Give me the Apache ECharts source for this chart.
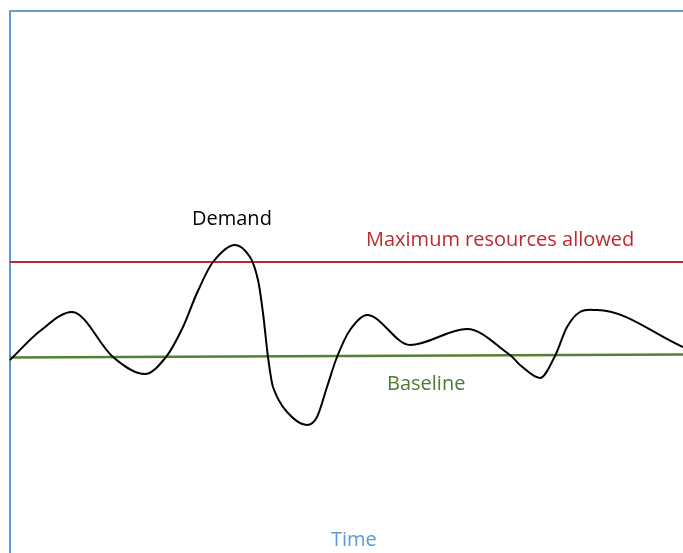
<!DOCTYPE html>
<html>
<head>
<meta charset="utf-8">
<script src="https://cdn.jsdelivr.net/npm/echarts@6/dist/echarts.min.js"></script>
<style>html,body{margin:0;padding:0;background:#fff;overflow:hidden}#c{width:683px;height:553px}</style>
</head>
<body>
<div id="c"></div>
<script>
// Time positions and demand values (arbitrary units)
const demandTime = [0,30,62,103,135,156,173,187,203,225,240,248,253,258,263,277,297,307,317,327,340,357,400,457,500,510,530,545,557,570,587,673];
const demandValue = [193,222,241,196,179,196,226,260,291,308,296,273,240,196,166,141,128,136,166,196,223,238,208,224,198,188,175,197,226,241,243,206];
const maxTime = [0,673];
const maxValue = [291,291];
const baseTime = [0,673];
const baseValue = [195.5,198.5];
const labels = { demand: 'Demand', max: 'Maximum resources allowed', base: 'Baseline', axis: 'Time' };

const zip = (a,b) => a.map((v,i)=>[v,b[i]]);
const chart = echarts.init(document.getElementById('c'));
const FONT = 'Open Sans';
const txt = (text, x, y, size, fill) => ({ type: 'text', x: x, y: y,
  style: { text: text, font: size + 'px "' + FONT + '"', fill: fill, textAlign: 'left', textVerticalAlign: 'middle' } });

// Cubic Hermite path (flat at local extrema) through pixel points obtained from the axes
function splinePath(pts) {
  const n = pts.length;
  const m = [];
  m[0] = (pts[1][1] - pts[0][1]) / (pts[1][0] - pts[0][0]);
  m[n-1] = (pts[n-1][1] - pts[n-2][1]) / (pts[n-1][0] - pts[n-2][0]);
  for (let i = 1; i < n - 1; i++) {
    const a = pts[i][1] - pts[i-1][1], b = pts[i+1][1] - pts[i][1];
    m[i] = (a * b <= 0) ? 0 : (pts[i+1][1] - pts[i-1][1]) / (pts[i+1][0] - pts[i-1][0]);
  }
  let p = 'M' + pts[0][0] + ',' + pts[0][1];
  for (let i = 0; i < n - 1; i++) {
    const h = pts[i+1][0] - pts[i][0];
    p += 'C' + (pts[i][0] + h/3) + ',' + (pts[i][1] + m[i]*h/3) + ' ' +
         (pts[i+1][0] - h/3) + ',' + (pts[i+1][1] - m[i+1]*h/3) + ' ' +
         pts[i+1][0] + ',' + pts[i+1][1];
  }
  return p;
}

chart.setOption({
  animation: false,
  backgroundColor: '#ffffff',
  grid: { left: 10, right: 0, top: 11, bottom: 0 },
  xAxis: { type: 'value', min: 0, max: 673, position: 'top',
    axisLine: { show: true, onZero: false, lineStyle: { color: '#6f9bc8', width: 2 } },
    axisTick: { show: false }, axisLabel: { show: false }, splitLine: { show: false } },
  yAxis: { type: 'value', min: 0, max: 542, position: 'left',
    axisLine: { show: true, onZero: false, lineStyle: { color: '#5b9bd5', width: 2 } },
    axisTick: { show: false }, axisLabel: { show: false }, splitLine: { show: false } },
  series: [
    { type: 'line', data: zip(maxTime, maxValue), symbol: 'none', lineStyle: { color: '#c0282f', width: 2 } },
    { type: 'line', data: zip(baseTime, baseValue), symbol: 'none', lineStyle: { color: '#548235', width: 2.5 } },
    { type: 'custom', data: zip(demandTime, demandValue), clip: false, z: 5,
      renderItem: function (params, api) {
        if (params.dataIndex !== 0) return null;
        const pts = demandTime.map((t, i) => api.coord([t, demandValue[i]]));
        return { type: 'path', shape: { pathData: splinePath(pts) },
          style: { fill: 'none', stroke: '#000', lineWidth: 2 } };
      } }
  ],
  graphic: [
    txt(labels.demand, 192, 219, 20, '#000'),
    txt(labels.max, 366, 240, 20, '#c0282f'),
    txt(labels.base, 387, 384, 20, '#4f7a35'),
    txt(labels.axis, 331, 540, 20, '#5b9bd5')
  ]
});
</script>
</body>
</html>
